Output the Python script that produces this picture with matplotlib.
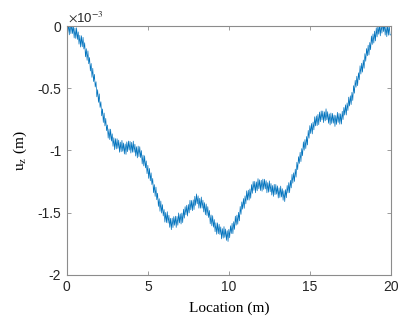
import numpy as np
import matplotlib
matplotlib.use("Agg")
from matplotlib import pyplot as plt
from matplotlib.ticker import FuncFormatter

plt.rcParams['axes.unicode_minus'] = False
plt.rcParams['mathtext.fontset'] = 'stix'

# vertical displacement along the beam, sampled every 0.05 m (units of 1e-3 m)
location = np.arange(401) * 0.05
uz_e3 = [
    0.040, -0.055, 0.020, -0.070, 0.025, -0.060, 0.020, -0.060, 0.005, -0.095,
    -0.015, -0.099, -0.013, -0.107, -0.046, -0.145, -0.074, -0.168, -0.077, -0.166,
    -0.090, -0.184, -0.133, -0.247, -0.181, -0.275, -0.199, -0.303, -0.252, -0.361,
    -0.300, -0.412, -0.339, -0.446, -0.388, -0.490, -0.447, -0.569, -0.511, -0.613,
    -0.545, -0.654, -0.608, -0.722, -0.666, -0.775, -0.699, -0.803, -0.742, -0.841,
    -0.795, -0.901, -0.827, -0.913, -0.829, -0.925, -0.866, -0.967, -0.898, -0.994,
    -0.905, -0.988, -0.906, -0.984, -0.917, -1.015, -0.933, -1.011, -0.919, -1.007,
    -0.940, -1.029, -0.948, -1.032, -0.931, -1.010, -0.924, -0.998, -0.927, -1.021,
    -0.935, -1.015, -0.925, -1.015, -0.950, -1.045, -0.970, -1.060, -0.965, -1.050,
    -0.970, -1.058, -1.001, -1.109, -1.037, -1.125, -1.043, -1.141, -1.084, -1.187,
    -1.120, -1.225, -1.145, -1.245, -1.180, -1.275, -1.225, -1.340, -1.275, -1.370,
    -1.295, -1.397, -1.344, -1.451, -1.388, -1.490, -1.407, -1.504, -1.436, -1.528,
    -1.475, -1.577, -1.499, -1.581, -1.493, -1.585, -1.522, -1.619, -1.546, -1.638,
    -1.545, -1.621, -1.532, -1.603, -1.529, -1.620, -1.531, -1.602, -1.503, -1.584,
    -1.510, -1.592, -1.504, -1.581, -1.473, -1.545, -1.452, -1.519, -1.441, -1.528,
    -1.435, -1.503, -1.401, -1.479, -1.402, -1.485, -1.398, -1.476, -1.369, -1.442,
    -1.350, -1.430, -1.365, -1.465, -1.385, -1.465, -1.375, -1.465, -1.400, -1.495,
    -1.420, -1.518, -1.431, -1.524, -1.452, -1.540, -1.483, -1.591, -1.519, -1.607,
    -1.525, -1.618, -1.556, -1.654, -1.582, -1.675, -1.583, -1.671, -1.594, -1.677,
    -1.615, -1.712, -1.629, -1.706, -1.613, -1.700, -1.632, -1.724, -1.646, -1.733,
    -1.635, -1.703, -1.606, -1.669, -1.587, -1.670, -1.573, -1.636, -1.529, -1.602,
    -1.520, -1.594, -1.498, -1.567, -1.451, -1.515, -1.414, -1.473, -1.387, -1.466,
    -1.365, -1.430, -1.325, -1.400, -1.320, -1.400, -1.310, -1.385, -1.275, -1.345,
    -1.250, -1.322, -1.249, -1.341, -1.253, -1.325, -1.227, -1.309, -1.236, -1.323,
    -1.240, -1.328, -1.231, -1.314, -1.232, -1.310, -1.243, -1.341, -1.259, -1.337,
    -1.245, -1.333, -1.266, -1.359, -1.282, -1.370, -1.273, -1.356, -1.274, -1.352,
    -1.285, -1.383, -1.301, -1.379, -1.287, -1.375, -1.308, -1.401, -1.324, -1.412,
    -1.315, -1.381, -1.282, -1.343, -1.259, -1.340, -1.241, -1.302, -1.193, -1.264,
    -1.180, -1.250, -1.150, -1.215, -1.095, -1.155, -1.050, -1.105, -1.015, -1.090,
    -0.985, -1.043, -0.931, -0.999, -0.912, -0.985, -0.888, -0.956, -0.839, -0.902,
    -0.800, -0.864, -0.783, -0.867, -0.771, -0.835, -0.729, -0.803, -0.722, -0.801,
    -0.710, -0.793, -0.691, -0.769, -0.682, -0.755, -0.683, -0.776, -0.689, -0.762,
    -0.665, -0.754, -0.688, -0.782, -0.706, -0.795, -0.699, -0.783, -0.702, -0.781,
    -0.715, -0.807, -0.719, -0.791, -0.693, -0.775, -0.702, -0.789, -0.706, -0.788,
    -0.685, -0.752, -0.654, -0.716, -0.633, -0.715, -0.617, -0.679, -0.571, -0.643,
    -0.560, -0.631, -0.532, -0.598, -0.479, -0.540, -0.436, -0.492, -0.403, -0.479,
    -0.375, -0.432, -0.319, -0.386, -0.298, -0.370, -0.272, -0.339, -0.221, -0.283,
    -0.180, -0.239, -0.153, -0.232, -0.131, -0.190, -0.079, -0.148, -0.062, -0.136,
    -0.040, -0.119, -0.013, -0.087, 0.004, -0.065, 0.011, -0.078, 0.013, -0.056,
    0.045, -0.044, 0.022, -0.072, 0.004, -0.085, 0.011, -0.073, 0.008, -0.071,
    -0.070,
]
uz = np.array(uz_e3) * 1e-3

xticks = [0, 5, 10, 15, 20]
yticks = [-2e-3, -1.5e-3, -1e-3, -0.5e-3, 0]

fig = plt.figure(figsize=(3.98, 3.27), dpi=100)
ax = fig.add_axes([0.168, 0.160, 0.814, 0.760])

ax.plot(location, uz, color='#0072BD', lw=0.5)

ax.set_xlim(0, 20)
ax.set_ylim(-2e-3, 0)
ax.set_xticks(xticks)
ax.set_yticks(yticks)
ax.yaxis.set_major_formatter(FuncFormatter(lambda v, p: f"{v * 1e3:g}"))

edge = '#8c8c8c'
for s in ax.spines.values():
    s.set_color(edge)
    s.set_linewidth(0.8)
ax.tick_params(direction='in', length=3, width=0.6, color=edge,
               top=True, right=True, labelsize=10, labelcolor='#262626', pad=4)
for lab in ax.get_xticklabels() + ax.get_yticklabels():
    lab.set_family('Liberation Sans')

ax.text(0.003, 1.005, r'$\times$10$^{-3}$', transform=ax.transAxes,
        ha='left', va='bottom', fontsize=9.5, color='#262626',
        family='Liberation Sans')

ax.set_xlabel('Location (m)', family='Liberation Serif', fontsize=11, labelpad=5)
ax.set_ylabel(r'u$_{\mathrm{z}}$ (m)', family='Liberation Serif', fontsize=11, labelpad=6)

fig.savefig("out.png", dpi=100)
